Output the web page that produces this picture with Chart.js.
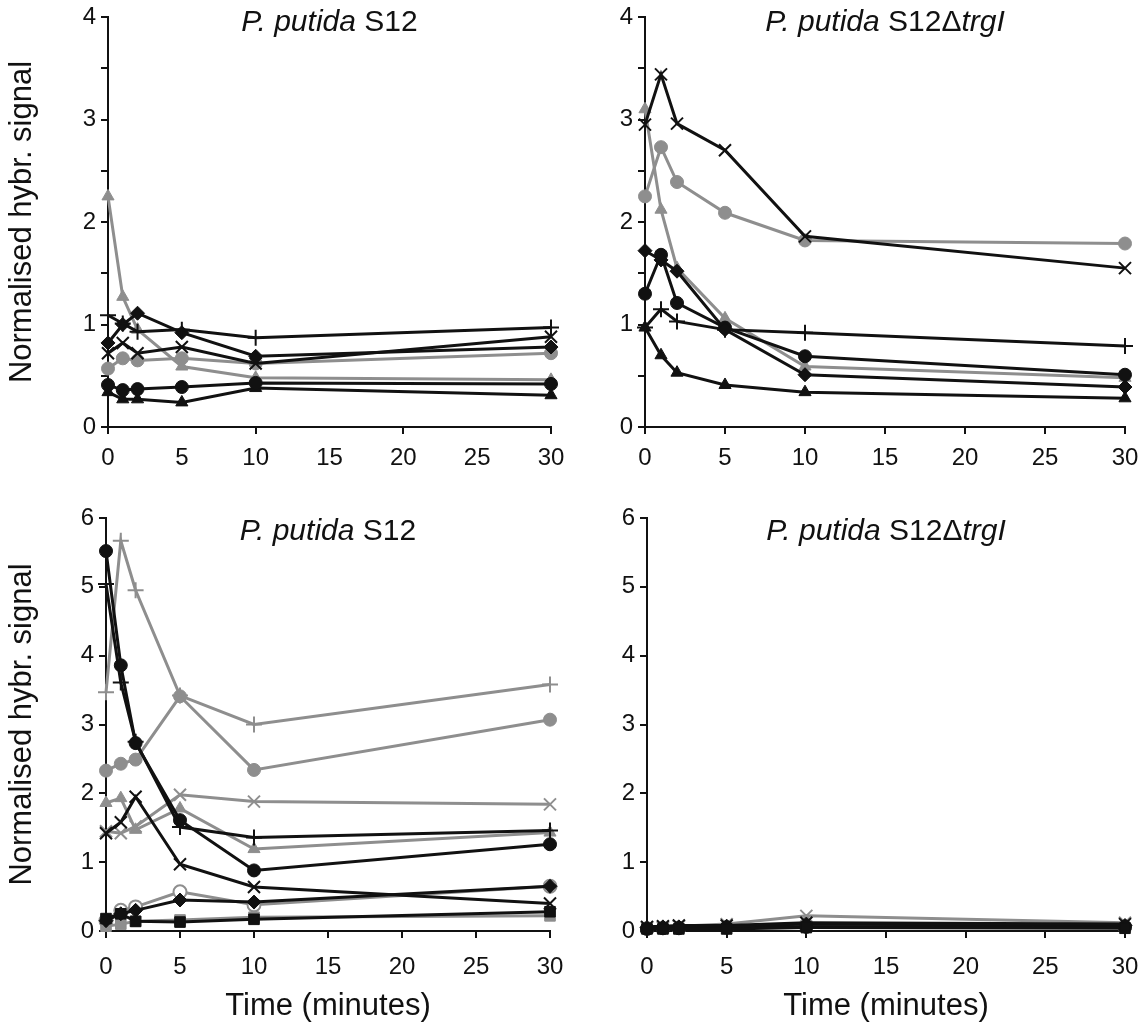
<!DOCTYPE html>
<html>
<head>
<meta charset="utf-8">
<script src="https://cdn.jsdelivr.net/npm/chart.js@4.4.1/dist/chart.umd.min.js"></script>
<style>
  html, body { margin: 0; padding: 0; background: #fff; }
  #wrap { position: relative; width: 1142px; height: 1025px; overflow: hidden; background: #fff; }
  .panel { position: absolute; }
</style>
</head>
<body>
<div id="wrap">
  <div class="panel" style="left:0;top:0;width:571px;height:490px"><canvas id="cA"></canvas></div>
  <div class="panel" style="left:571px;top:0;width:571px;height:490px"><canvas id="cB"></canvas></div>
  <div class="panel" style="left:0;top:490px;width:571px;height:535px"><canvas id="cC"></canvas></div>
  <div class="panel" style="left:571px;top:490px;width:571px;height:535px"><canvas id="cD"></canvas></div>
</div>
<script>
// Sampling times (minutes)
const times = [0, 1, 2, 5, 10, 30];

// Upper left: P. putida S12
const s12_grayTriangle  = [2.25, 1.27, 0.95, 0.59, 0.48, 0.46];
const s12_blackPlus     = [1.09, 1.01, 0.93, 0.95, 0.87, 0.97];
const s12_blackDiamond  = [0.82, 1.00, 1.11, 0.92, 0.69, 0.78];
const s12_blackCross    = [0.72, 0.82, 0.72, 0.78, 0.62, 0.88];
const s12_grayCircle    = [0.57, 0.67, 0.65, 0.67, 0.62, 0.72];
const s12_blackCircle   = [0.41, 0.36, 0.37, 0.39, 0.43, 0.42];
const s12_blackTriangle = [0.34, 0.27, 0.27, 0.24, 0.38, 0.31];

// Upper right: P. putida S12ΔtrgI
const dtrg_grayTriangle  = [3.10, 2.12, 1.55, 1.06, 0.59, 0.48];
const dtrg_blackCross    = [2.95, 3.44, 2.96, 2.70, 1.86, 1.55];
const dtrg_grayCircle    = [2.25, 2.73, 2.39, 2.09, 1.82, 1.79];
const dtrg_blackDiamond  = [1.72, 1.63, 1.52, 0.95, 0.51, 0.39];
const dtrg_blackCircle   = [1.30, 1.68, 1.21, 0.97, 0.69, 0.51];
const dtrg_blackPlus     = [0.97, 1.15, 1.03, 0.95, 0.92, 0.79];
const dtrg_blackTriangle = [0.97, 0.70, 0.53, 0.41, 0.34, 0.28];

// Lower left: P. putida S12
const s12b_grayPlus       = [3.47, 5.67, 4.95, 3.42, 3.00, 3.58];
const s12b_blackCircle    = [5.52, 3.86, 2.73, 1.61, 0.88, 1.26];
const s12b_blackPlus      = [5.04, 3.61, 2.75, 1.51, 1.36, 1.46];
const s12b_grayCircle     = [2.33, 2.43, 2.49, 3.41, 2.34, 3.07];
const s12b_grayCross      = [1.45, 1.42, 1.52, 1.98, 1.88, 1.84];
const s12b_grayTriangle   = [1.86, 1.93, 1.47, 1.78, 1.19, 1.43];
const s12b_blackCross     = [1.42, 1.58, 1.95, 0.97, 0.64, 0.40];
const s12b_grayOpenCircle = [0.15, 0.30, 0.35, 0.57, 0.38, 0.65];
const s12b_blackDiamond   = [0.15, 0.25, 0.30, 0.45, 0.42, 0.65];
const s12b_blackSquare    = [0.18, 0.25, 0.14, 0.13, 0.17, 0.28];
const s12b_graySquare     = [0.07, 0.10, 0.14, 0.16, 0.20, 0.22];

// Lower right: P. putida S12ΔtrgI
const dtrgb_grayCross     = [0.05, 0.05, 0.07, 0.10, 0.22, 0.12];
const dtrgb_blackCross    = [0.06, 0.07, 0.08, 0.08, 0.12, 0.10];
const dtrgb_blackDiamond  = [0.05, 0.06, 0.06, 0.07, 0.10, 0.08];
const dtrgb_grayCircle    = [0.04, 0.04, 0.05, 0.06, 0.08, 0.07];
const dtrgb_grayTriangle  = [0.04, 0.05, 0.05, 0.06, 0.07, 0.05];
const dtrgb_blackCircle   = [0.03, 0.04, 0.04, 0.05, 0.06, 0.06];
const dtrgb_blackSquare   = [0.03, 0.03, 0.03, 0.03, 0.05, 0.04];

const xTicks = [0, 5, 10, 15, 20, 25, 30];
const yTitle = 'Normalised hybr. signal';
const xTitle = 'Time (minutes)';

const GRAY = '#8e8e8e';
const BLACK = '#111111';
const FONT = '"Liberation Sans", Arial, Helvetica, sans-serif';

// Marker sizes per point style
const MARK = {
  circle:   { r: 6.5, bw: 1 },
  triangle: { r: 7,   bw: 1 },
  rectRot:  { r: 7,   bw: 1 },
  rect:     { r: 7.5, bw: 1 },
  cross:    { r: 8,   bw: 2 },
  crossRot: { r: 8.5, bw: 2 }
};

function series(values, color, style, fill) {
  const m = MARK[style];
  return {
    data: values.map((v, i) => ({ x: times[i], y: v })),
    borderColor: color,
    backgroundColor: fill || color,
    borderWidth: 3,
    pointStyle: style,
    pointRadius: m.r,
    pointHoverRadius: m.r,
    pointBorderColor: color,
    pointBackgroundColor: fill || color,
    pointBorderWidth: fill ? 2 : m.bw,
    tension: 0,
    clip: false
  };
}

// Panel heading with italic species name
const panelTitle = {
  id: 'panelTitle',
  afterDraw(chart, args, opts) {
    if (!opts || !opts.parts) return;
    const { ctx, chartArea } = chart;
    ctx.save();
    ctx.textBaseline = 'middle';
    ctx.textAlign = 'left';
    ctx.fillStyle = BLACK;
    const fonts = opts.parts.map(p => (p[1] ? 'italic ' : '') + opts.size + 'px ' + FONT);
    let total = 0;
    opts.parts.forEach((p, i) => { ctx.font = fonts[i]; total += ctx.measureText(p[0]).width; });
    let x = (chartArea.left + chartArea.right) / 2 - total / 2;
    const y = chartArea.top + opts.dy;
    opts.parts.forEach((p, i) => {
      ctx.font = fonts[i];
      ctx.fillText(p[0], x, y);
      x += ctx.measureText(p[0]).width;
    });
    ctx.restore();
  }
};

function makeScales(o) {
  return {
    x: {
      type: 'linear', min: 0, max: 30,
      afterBuildTicks: s => { s.ticks = xTicks.map(v => ({ value: v })); },
      ticks: { font: { family: FONT, size: 24 }, color: BLACK, padding: o.xpad, maxRotation: 0, autoSkip: false },
      grid: {
        drawOnChartArea: false, drawTicks: true, tickLength: 7, lineWidth: 2,
        color: c => (o.xMajor && c.tick && c.tick.value % o.xMajor !== 0) ? 'rgba(0,0,0,0)' : BLACK
      },
      border: { display: true, color: BLACK, width: 2 },
      title: o.xTitle
        ? { display: true, text: xTitle, font: { family: FONT, size: 31 }, color: BLACK, padding: { top: 0, bottom: 0 } }
        : { display: false },
      // fixed axis band; the layout padding already leaves room for the end labels
      afterFit: s => { s.height = o.xh; s.paddingLeft = 0; s.paddingRight = 0; }
    },
    y: {
      type: 'linear', min: 0, max: o.ymax,
      ticks: {
        stepSize: o.ystep, font: { family: FONT, size: 24 }, color: BLACK, padding: 5,
        callback: v => (Math.abs(v - Math.round(v)) < 1e-9 ? String(Math.round(v)) : '')
      },
      grid: { drawOnChartArea: false, drawTicks: true, tickLength: 7, lineWidth: 2, color: BLACK },
      border: { display: true, color: BLACK, width: 2 },
      title: o.yTitle
        ? { display: true, text: yTitle, font: { family: FONT, size: 31 }, color: BLACK, padding: { top: 4, bottom: 0 } }
        : { display: false },
      afterFit: s => { s.width = o.yw; s.paddingTop = 0; s.paddingBottom = 0; }
    }
  };
}

function makeChart(id, datasets, o) {
  return new Chart(document.getElementById(id), {
    type: 'line',
    data: { datasets },
    options: {
      responsive: true,
      maintainAspectRatio: false,
      animation: false,
      events: [],
      layout: { padding: o.pad, autoPadding: false },
      plugins: {
        legend: { display: false },
        tooltip: { enabled: false },
        panelTitle: { parts: o.title, size: 30, dy: o.titleDy }
      },
      scales: makeScales(o)
    },
    plugins: [panelTitle]
  });
}

makeChart('cA', [
  series(s12_blackPlus, BLACK, 'cross'),
  series(s12_blackDiamond, BLACK, 'rectRot'),
  series(s12_blackCross, BLACK, 'crossRot'),
  series(s12_blackCircle, BLACK, 'circle'),
  series(s12_blackTriangle, BLACK, 'triangle'),
  series(s12_grayTriangle, GRAY, 'triangle'),
  series(s12_grayCircle, GRAY, 'circle')
], {
  ymax: 4, ystep: 0.5, yw: 108, xh: 63, xpad: 10, xMajor: 10, yTitle: true, xTitle: false,
  pad: { top: 17, right: 20, left: 0, bottom: 0 },
  title: [['P. putida', true], [' S12', false]], titleDy: 6
});

makeChart('cB', [
  series(dtrg_blackCross, BLACK, 'crossRot'),
  series(dtrg_blackDiamond, BLACK, 'rectRot'),
  series(dtrg_blackCircle, BLACK, 'circle'),
  series(dtrg_blackPlus, BLACK, 'cross'),
  series(dtrg_blackTriangle, BLACK, 'triangle'),
  series(dtrg_grayTriangle, GRAY, 'triangle'),
  series(dtrg_grayCircle, GRAY, 'circle')
], {
  ymax: 4, ystep: 0.5, yw: 74, xh: 63, xpad: 10, yTitle: false, xTitle: false,
  pad: { top: 17, right: 17, left: 0, bottom: 0 },
  title: [['P. putida', true], [' S12\u0394', false], ['trgI', true]], titleDy: 6
});

makeChart('cC', [
  series(s12b_blackCircle, BLACK, 'circle'),
  series(s12b_blackPlus, BLACK, 'cross'),
  series(s12b_blackCross, BLACK, 'crossRot'),
  series(s12b_blackDiamond, BLACK, 'rectRot'),
  series(s12b_blackSquare, BLACK, 'rect'),
  series(s12b_grayPlus, GRAY, 'cross'),
  series(s12b_grayCircle, GRAY, 'circle'),
  series(s12b_grayCross, GRAY, 'crossRot'),
  series(s12b_grayTriangle, GRAY, 'triangle'),
  series(s12b_grayOpenCircle, GRAY, 'circle', '#ffffff'),
  series(s12b_graySquare, GRAY, 'rect')
], {
  ymax: 6, ystep: 1, yw: 106, xh: 94, xpad: 15, yTitle: true, xTitle: true,
  pad: { top: 28, right: 21, left: 0, bottom: 0 },
  title: [['P. putida', true], [' S12', false]], titleDy: 14
});

makeChart('cD', [
  series(dtrgb_blackSquare, BLACK, 'rect'),
  series(dtrgb_blackCircle, BLACK, 'circle'),
  series(dtrgb_blackDiamond, BLACK, 'rectRot'),
  series(dtrgb_blackCross, BLACK, 'crossRot'),
  series(dtrgb_grayCross, GRAY, 'crossRot'),
  series(dtrgb_grayCircle, GRAY, 'circle'),
  series(dtrgb_grayTriangle, GRAY, 'triangle')
], {
  ymax: 6, ystep: 1, yw: 76, xh: 94, xpad: 15, yTitle: false, xTitle: true,
  pad: { top: 28, right: 17, left: 0, bottom: 0 },
  title: [['P. putida', true], [' S12\u0394', false], ['trgI', true]], titleDy: 14
});
</script>
</body>
</html>
